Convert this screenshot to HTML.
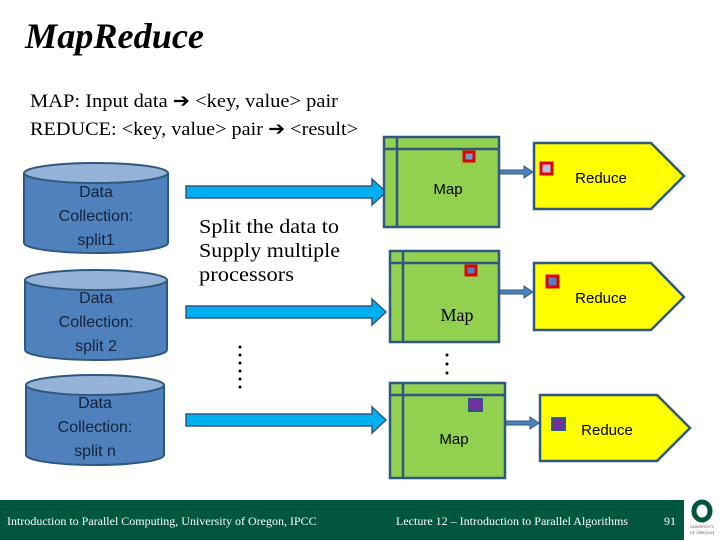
<!DOCTYPE html>
<html><head><style>html,body{margin:0;padding:0;background:#fff}svg{display:block}</style></head>
<body>
<svg width="720" height="540" viewBox="0 0 720 540" xmlns="http://www.w3.org/2000/svg">
<text x="25" y="48" font-family="Liberation Serif" font-style="italic" font-weight="bold" font-size="36" textLength="179" lengthAdjust="spacingAndGlyphs">MapReduce</text>
<text x="30" y="107" font-family="Liberation Serif" font-size="19" textLength="308" lengthAdjust="spacingAndGlyphs">MAP: Input data ➔ &lt;key, value&gt; pair</text>
<text x="30" y="135" font-family="Liberation Serif" font-size="19" textLength="328" lengthAdjust="spacingAndGlyphs">REDUCE: &lt;key, value&gt; pair ➔ &lt;result&gt;</text>

<g stroke="#2f5880" stroke-width="2">
<path d="M24,173 v70 a72,10 0 0 0 144,0 v-70" fill="#4f81bd"/>
<ellipse cx="96" cy="173" rx="72" ry="10" fill="#95b3d7"/>
<path d="M25,280 v70 a71,10 0 0 0 142,0 v-70" fill="#4f81bd"/>
<ellipse cx="96" cy="280" rx="71" ry="10" fill="#95b3d7"/>
<path d="M26,385 v70 a69,10 0 0 0 138,0 v-70" fill="#4f81bd"/>
<ellipse cx="95" cy="385" rx="69" ry="10" fill="#95b3d7"/>
</g>
<g font-family="Liberation Sans" font-size="16" fill="#15233a" text-anchor="middle">
<text x="96" y="197">Data</text><text x="96" y="221">Collection:</text><text x="96" y="245">split1</text>
<text x="96" y="303">Data</text><text x="96" y="327">Collection:</text><text x="96" y="351">split 2</text>
<text x="95" y="408">Data</text><text x="95" y="432">Collection:</text><text x="95" y="456">split n</text>
</g>

<g fill="#00b0f0" stroke="#2f5880" stroke-width="1.5">
<path d="M186,186 h186 v-7 l14,13 l-14,13 v-7 h-186z"/>
<path d="M186,306 h186 v-7 l14,13 l-14,13 v-7 h-186z"/>
<path d="M186,414 h186 v-7 l14,13 l-14,13 v-7 h-186z"/>
</g>
<g font-family="Liberation Serif" font-size="20">
<text x="199" y="233" textLength="140" lengthAdjust="spacingAndGlyphs">Split the data to</text><text x="199" y="257" textLength="141" lengthAdjust="spacingAndGlyphs">Supply multiple</text><text x="199" y="281" textLength="95" lengthAdjust="spacingAndGlyphs">processors</text>
</g>
<g fill="#000">
<circle cx="240" cy="347" r="1.5"/><circle cx="240" cy="355" r="1.5"/><circle cx="240" cy="363" r="1.5"/><circle cx="240" cy="371" r="1.5"/><circle cx="240" cy="379" r="1.5"/><circle cx="240" cy="387" r="1.5"/>
<circle cx="447" cy="355" r="1.5"/><circle cx="447" cy="364" r="1.5"/><circle cx="447" cy="373" r="1.5"/>
</g>

<g fill="#92d050" stroke="#2f5880" stroke-width="2.5">
<rect x="384" y="137" width="115" height="90"/><line x1="397" y1="137" x2="397" y2="227"/><line x1="384" y1="149" x2="499" y2="149"/>
<rect x="390" y="251" width="109" height="91"/><line x1="403" y1="251" x2="403" y2="342"/><line x1="390" y1="263" x2="499" y2="263"/>
<rect x="390" y="383" width="115" height="95"/><line x1="403" y1="383" x2="403" y2="478"/><line x1="390" y1="395" x2="505" y2="395"/>
</g>
<g font-family="Liberation Sans" font-size="15" text-anchor="middle">
<text x="448" y="194">Map</text>
<text x="457" y="321" font-family="Liberation Serif" font-size="18">Map</text>
<text x="454" y="444">Map</text>
</g>

<g fill="#ffff00" stroke="#2f5880" stroke-width="2.5">
<path d="M534,143 h117 l33,33 l-33,33 h-117z"/>
<path d="M534,263 h117 l33,34 l-33,33 h-117z"/>
<path d="M540,395 h117 l33,33 l-33,33 h-117z"/>
</g>
<g font-family="Liberation Sans" font-size="15" text-anchor="middle">
<text x="601" y="183">Reduce</text><text x="601" y="303">Reduce</text><text x="607" y="435">Reduce</text>
</g>

<g fill="#4f81bd" stroke="#2f5880" stroke-width="1">
<path d="M500,170 h24 v-4 l9,6 l-9,6 v-4 h-24z"/>
<path d="M500,290 h24 v-4 l9,6 l-9,6 v-4 h-24z"/>
<path d="M506,421 h24 v-4 l9,6 l-9,6 v-4 h-24z"/>
</g>
<g stroke="#e00000" stroke-width="3">
<rect x="464" y="152" width="10" height="9" fill="#6f9bc9"/>
<rect x="541" y="163" width="11" height="11" fill="#b0c4de"/>
<rect x="466" y="266" width="10" height="9" fill="#4f81bd"/>
<rect x="547" y="276" width="11" height="11" fill="#4f81bd"/>
</g>
<g stroke="#2f5880" stroke-width="2" fill="#7030a0">
<rect x="469" y="399" width="13" height="12"/>
<rect x="552" y="418" width="13" height="12"/>
</g>

<rect x="0" y="500" width="684" height="40" fill="#00563f"/>
<g font-family="Liberation Serif" font-size="12" fill="#fff">
<text x="7" y="525">Introduction to Parallel Computing, University of Oregon, IPCC</text>
<text x="396" y="525">Lecture 12 – Introduction to Parallel Algorithms</text>
<text x="664" y="525">91</text>
</g>
<ellipse cx="702" cy="511" rx="8" ry="9" fill="none" stroke="#00563f" stroke-width="5"/>
<text x="702" y="528" font-family="Liberation Sans" font-size="4" text-anchor="middle" fill="#555">UNIVERSITY</text>
<text x="702" y="534" font-family="Liberation Sans" font-size="4" text-anchor="middle" fill="#555">OF OREGON</text>
</svg>
</body></html>
